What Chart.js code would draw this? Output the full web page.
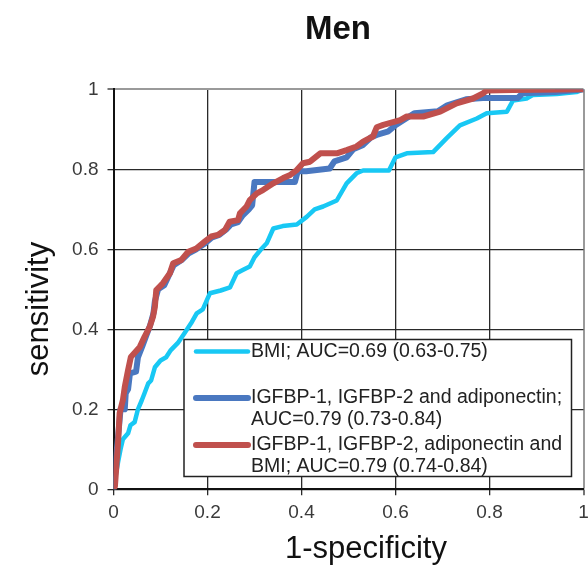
<!DOCTYPE html>
<html>
<head>
<meta charset="utf-8">
<script src="https://cdn.jsdelivr.net/npm/chart.js@4.4.1/dist/chart.umd.min.js"></script>
<style>
  html, body { margin: 0; padding: 0; background: #ffffff; }
  #c { display: block; }
</style>
</head>
<body>
<canvas id="c" width="588" height="571"></canvas>
<script>
// ---------- data ----------
const chartTitle = 'Men';
const xAxisTitle = '1-specificity';
const yAxisTitle = 'sensitivity';
const tickValues = [0, 0.2, 0.4, 0.6, 0.8, 1];
const tickLabels = ['0', '0.2', '0.4', '0.6', '0.8', '1'];

const seriesLabels = [
  ['BMI; AUC=0.69 (0.63-0.75)'],
  ['IGFBP-1, IGFBP-2 and adiponectin;', 'AUC=0.79 (0.73-0.84)'],
  ['IGFBP-1, IGFBP-2, adiponectin and', 'BMI; AUC=0.79 (0.74-0.84)']
];

// BMI (1-specificity, sensitivity)
const bmiX = [0, 0.004, 0.01, 0.015, 0.02, 0.031, 0.036, 0.045, 0.052, 0.06, 0.066, 0.074, 0.08, 0.088, 0.1, 0.112, 0.122, 0.137, 0.151, 0.165, 0.177, 0.19, 0.205, 0.228, 0.248, 0.262, 0.275, 0.29, 0.3, 0.314, 0.326, 0.34, 0.36, 0.39, 0.411, 0.428, 0.446, 0.475, 0.496, 0.517, 0.531, 0.565, 0.586, 0.6, 0.624, 0.68, 0.709, 0.737, 0.773, 0.794, 0.837, 0.85, 0.879, 0.893, 0.943, 0.985, 1];
const bmiY = [0, 0.03, 0.07, 0.1, 0.125, 0.14, 0.16, 0.168, 0.2, 0.222, 0.24, 0.265, 0.272, 0.305, 0.322, 0.33, 0.348, 0.366, 0.39, 0.415, 0.44, 0.45, 0.49, 0.497, 0.505, 0.54, 0.548, 0.557, 0.58, 0.6, 0.615, 0.652, 0.658, 0.662, 0.681, 0.7, 0.707, 0.722, 0.765, 0.79, 0.797, 0.797, 0.797, 0.83, 0.84, 0.843, 0.878, 0.91, 0.927, 0.94, 0.944, 0.972, 0.977, 0.986, 0.988, 0.993, 1];

// IGFBP-1, IGFBP-2 and adiponectin
const igfX = [0, 0.003, 0.008, 0.012, 0.015, 0.024, 0.026, 0.031, 0.035, 0.048, 0.052, 0.062, 0.07, 0.078, 0.085, 0.088, 0.095, 0.108, 0.118, 0.128, 0.145, 0.16, 0.176, 0.195, 0.21, 0.225, 0.24, 0.25, 0.265, 0.275, 0.288, 0.295, 0.3, 0.33, 0.386, 0.392, 0.41, 0.46, 0.47, 0.496, 0.51, 0.53, 0.548, 0.56, 0.585, 0.6, 0.62, 0.64, 0.69, 0.71, 0.75, 0.786, 0.86, 0.87, 0.94, 1];
const igfY = [0, 0.05, 0.11, 0.16, 0.2, 0.2, 0.24, 0.25, 0.29, 0.294, 0.33, 0.36, 0.385, 0.41, 0.44, 0.47, 0.5, 0.51, 0.535, 0.56, 0.573, 0.59, 0.6, 0.615, 0.63, 0.636, 0.65, 0.662, 0.668, 0.685, 0.7, 0.71, 0.768, 0.768, 0.768, 0.795, 0.795, 0.802, 0.82, 0.83, 0.85, 0.86, 0.88, 0.886, 0.895, 0.91, 0.925, 0.94, 0.945, 0.96, 0.975, 0.978, 0.978, 0.99, 0.993, 1];

// IGFBP-1, IGFBP-2, adiponectin and BMI
const allX = [0, 0.003, 0.006, 0.01, 0.013, 0.02, 0.024, 0.031, 0.037, 0.056, 0.066, 0.077, 0.084, 0.088, 0.091, 0.105, 0.12, 0.127, 0.144, 0.159, 0.176, 0.194, 0.208, 0.222, 0.237, 0.247, 0.265, 0.269, 0.283, 0.29, 0.305, 0.318, 0.34, 0.361, 0.376, 0.39, 0.403, 0.418, 0.44, 0.475, 0.496, 0.517, 0.531, 0.552, 0.56, 0.574, 0.61, 0.624, 0.659, 0.695, 0.73, 0.765, 0.786, 0.794, 0.85, 1];
const allY = [0, 0.007, 0.056, 0.123, 0.19, 0.223, 0.256, 0.298, 0.331, 0.356, 0.381, 0.406, 0.431, 0.456, 0.498, 0.515, 0.54, 0.565, 0.573, 0.594, 0.602, 0.619, 0.632, 0.636, 0.648, 0.669, 0.673, 0.69, 0.707, 0.723, 0.74, 0.748, 0.765, 0.778, 0.786, 0.798, 0.815, 0.819, 0.84, 0.84, 0.848, 0.857, 0.869, 0.882, 0.905, 0.911, 0.923, 0.932, 0.932, 0.944, 0.965, 0.977, 0.99, 0.997, 0.998, 1];

// ---------- styling ----------
const COL_CYAN = '#18c8f4';
const COL_BLUE = '#4a78c0';
const COL_RED = '#c0504d';
const FONT = '"Liberation Sans", Arial, sans-serif';

const toPts = (xs, ys) => xs.map((x, i) => ({ x: x, y: ys[i] }));

const decor = {
  id: 'decor',
  afterDatasetsDraw(chart) {
    const c = chart.ctx;
    // legend box
    const L = 184, T = 339.5, R = 571.5, B = 476.5;
    c.save();
    c.fillStyle = '#ffffff';
    c.fillRect(L, T, R - L, B - T);
    c.strokeStyle = '#222222';
    c.lineWidth = 1.5;
    c.strokeRect(L, T, R - L, B - T);
    const rows = [
      { color: COL_CYAN, width: 4.5, y: 351.5 },
      { color: COL_BLUE, width: 6, y: 398 },
      { color: COL_RED, width: 6, y: 445 }
    ];
    c.font = '19.5px ' + FONT;
    c.textBaseline = 'middle';
    c.textAlign = 'left';
    rows.forEach((r, i) => {
      c.beginPath();
      c.strokeStyle = r.color;
      c.lineWidth = r.width;
      c.lineCap = 'round';
      c.moveTo(196, r.y);
      c.lineTo(248, r.y);
      c.stroke();
      c.fillStyle = '#222222';
      seriesLabels[i].forEach((t, j) => c.fillText(t, 251, r.y + j * 22));
    });
    c.restore();
  },
  afterDraw(chart) {
    const c = chart.ctx;
    c.save();
    c.fillStyle = '#111111';
    c.textAlign = 'center';
    c.textBaseline = 'middle';
    c.font = 'bold 33px ' + FONT;
    c.fillText(chartTitle, 338, 30);
    c.font = '31px ' + FONT;
    c.fillText(xAxisTitle, 366, 549);
    c.translate(39, 309);
    c.rotate(-Math.PI / 2);
    c.fillText(yAxisTitle, 0, 0);
    c.restore();
  }
};

const tickFont = { family: FONT, size: 19 };

new Chart(document.getElementById('c'), {
  type: 'line',
  data: {
    datasets: [
      { label: seriesLabels[0].join(' '), data: toPts(bmiX, bmiY), borderColor: COL_CYAN, borderWidth: 4.5, order: 2 },
      { label: seriesLabels[1].join(' '), data: toPts(igfX, igfY), borderColor: COL_BLUE, borderWidth: 6, order: 1 },
      { label: seriesLabels[2].join(' '), data: toPts(allX, allY), borderColor: COL_RED, borderWidth: 6, order: 0 }
    ]
  },
  options: {
    responsive: false,
    animation: false,
    layout: { padding: { left: 0, right: 4.5, top: 89.3, bottom: 0 } },
    plugins: { legend: { display: false }, title: { display: false }, tooltip: { enabled: false } },
    elements: {
      point: { radius: 0 },
      line: { tension: 0, borderJoinStyle: 'round', borderCapStyle: 'round', fill: false }
    },
    scales: {
      x: {
        type: 'linear', min: 0, max: 1,
        afterBuildTicks: s => { s.ticks = tickValues.map(v => ({ value: v })); },
        afterFit: s => { s.height = 571 - 489.3; s.paddingLeft = 0; s.paddingRight = 0; },
        ticks: { font: tickFont, color: '#3a3a3a', padding: 6, maxRotation: 0, autoSkip: false,
                 callback: (v, i) => tickLabels[i] },
        grid: { color: ctx => (ctx.tick && ctx.tick.value === 1) ? '#9a9a9a' : '#2a2a2a',
                lineWidth: ctx => (ctx.tick && ctx.tick.value === 1) ? 2 : 1.3,
                tickColor: '#2a2a2a', tickLength: 6, tickWidth: 1.3 },
        border: { display: true, color: '#111111', width: 2 }
      },
      y: {
        type: 'linear', min: 0, max: 1,
        afterBuildTicks: s => { s.ticks = tickValues.map(v => ({ value: v })); },
        afterFit: s => { s.width = 113.5; s.paddingTop = 0; s.paddingBottom = 0; },
        ticks: { font: tickFont, color: '#3a3a3a', padding: 9, autoSkip: false,
                 callback: (v, i) => tickLabels[i] },
        grid: { color: ctx => (ctx.tick && ctx.tick.value === 1) ? '#9a9a9a' : '#2a2a2a',
                lineWidth: ctx => (ctx.tick && ctx.tick.value === 1) ? 2 : 1.3,
                tickColor: '#2a2a2a', tickLength: 6, tickWidth: 1.3 },
        border: { display: true, color: '#111111', width: 2 }
      }
    }
  },
  plugins: [decor]
});
</script>
</body>
</html>
